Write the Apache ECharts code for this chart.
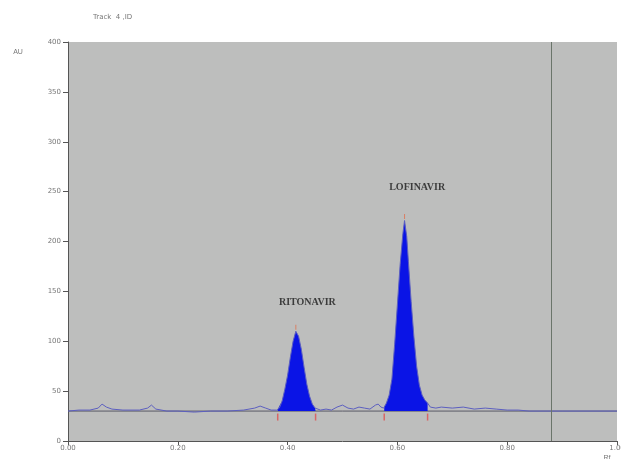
<!DOCTYPE html>
<html>
<head>
<meta charset="utf-8">
<script src="https://cdn.jsdelivr.net/npm/echarts@6/dist/echarts.min.js"></script>
<style>html,body{margin:0;padding:0;background:#fff;}#c{width:621px;height:459px;}</style>
</head>
<body>
<div id="c"></div>
<script>
// Densitogram trace (Rf, AU)
var rfValues = [0.00,0.02,0.04,0.055,0.062,0.07,0.08,0.10,0.13,0.145,0.152,0.16,0.18,0.20,0.23,0.26,0.29,0.32,0.34,0.35,0.36,0.37,0.38,0.385,0.39,0.395,0.40,0.405,0.41,0.415,0.42,0.425,0.43,0.435,0.44,0.445,0.45,0.46,0.47,0.48,0.49,0.50,0.51,0.52,0.53,0.54,0.55,0.56,0.565,0.57,0.575,0.58,0.585,0.59,0.595,0.60,0.605,0.61,0.613,0.617,0.62,0.625,0.63,0.635,0.64,0.645,0.65,0.655,0.66,0.67,0.68,0.70,0.72,0.74,0.76,0.78,0.80,0.82,0.84,0.90,1.00];
var auValues = [30,31,31,33,37,34,32,31,31,33,36,32,30,30,29,30,30,31,33,35,33,31,31,33,40,52,66,84,100,110,105,92,74,57,45,37,33,31,32,31,34,36,33,32,34,33,32,36,37,34,33,38,46,62,97,137,177,208,221,205,180,140,105,75,56,46,41,38,34,33,34,33,34,32,33,32,31,31,30,30,30];
var baselineAU = 30;
var peakNames = ['RITONAVIR','LOFINAVIR'];
var peakStart = [0.382,0.576];
var peakEnd = [0.451,0.655];
var peakRf = [0.415,0.613];
var peakLabelRf = [0.436,0.636];
var peakLabelAU = [139,254];
var markerRf = 0.88;

var signal = rfValues.map(function(x,i){return [x,auValues[i]];});
function valueAt(x){
  for (var i=0;i<rfValues.length-1;i++){
    if (x>=rfValues[i] && x<=rfValues[i+1]){
      var t=(x-rfValues[i])/(rfValues[i+1]-rfValues[i]);
      return auValues[i]+t*(auValues[i+1]-auValues[i]);
    }
  }
  return baselineAU;
}
var fillSeries = peakStart.map(function(s,k){
  var pts=[[s,valueAt(s)]];
  rfValues.forEach(function(x,i){ if(x>s && x<peakEnd[k]) pts.push([x,auValues[i]]); });
  pts.push([peakEnd[k],valueAt(peakEnd[k])]);
  return {type:'line',data:pts,symbol:'none',lineStyle:{width:0},
    areaStyle:{color:'#0a14e6',opacity:1,origin:baselineAU},z:3,silent:true};
});
var boundaryMarks=[];
peakStart.forEach(function(s,k){boundaryMarks.push([s,24]);boundaryMarks.push([peakEnd[k],24]);});
var topMarks = peakRf.map(function(x){return [x,valueAt(x)+4];});

var chart = echarts.init(document.getElementById('c'));
var axisLabelStyle = {color:'#777',fontSize:7,fontFamily:'DejaVu Sans'};
chart.setOption({
  animation:false,
  backgroundColor:'#fff',
  title:{text:'Track  4 ,ID',left:88,top:9,textStyle:{color:'#777',fontSize:7,fontWeight:'normal',fontFamily:'DejaVu Sans'}},
  grid:{left:68,top:42,right:4,bottom:18,show:true,backgroundColor:'#bdbebd',borderWidth:0,containLabel:false,outerBoundsMode:'none'},
  xAxis:{type:'value',min:0,max:1,interval:0.2,
    name:'Rf',nameLocation:'end',nameGap:-10,
    nameTextStyle:{color:'#777',fontSize:7,align:'center',verticalAlign:'top',padding:[14,0,0,0]},
    axisLine:{show:true,lineStyle:{color:'#555',width:1}},
    axisTick:{show:true,length:4,lineStyle:{color:'#555'}},
    splitLine:{show:false},
    axisLabel:Object.assign({formatter:function(v){return v.toFixed(2);},margin:4},axisLabelStyle)},
  yAxis:{type:'value',min:0,max:400,interval:50,
    name:'AU',nameLocation:'end',nameGap:0,nameTextStyle:{color:'#777',fontSize:7,padding:[0,0,-14,-100]},
    axisLine:{show:true,lineStyle:{color:'#555',width:1}},
    axisTick:{show:true,length:5,lineStyle:{color:'#555'}},
    splitLine:{show:false},
    axisLabel:Object.assign({margin:7},axisLabelStyle)},
  series:[
    {type:'line',data:[[0,baselineAU],[1,baselineAU]],symbol:'none',lineStyle:{color:'#5a5a66',width:1},z:2,
      markLine:{symbol:'none',silent:true,label:{show:false},lineStyle:{color:'#6a756a',width:1,type:'solid'},
        data:[{xAxis:markerRf}]}}
  ].concat(fillSeries).concat([
    {type:'line',data:signal,symbol:'none',lineStyle:{color:'#5c5fc0',width:1},z:4},
    {type:'scatter',data:boundaryMarks,symbol:'rect',symbolSize:[1.5,7],itemStyle:{color:'#e05050'},z:5},
    {type:'scatter',data:topMarks,symbol:'rect',symbolSize:[1,5],itemStyle:{color:'#e07050'},z:5},
    {type:'scatter',data:peakLabelRf.map(function(x,k){return [x,peakLabelAU[k]];}),symbolSize:0,z:6,
      label:{show:true,position:'inside',formatter:function(p){return peakNames[p.dataIndex];},
        color:'#1a1a1a',fontSize:10,fontWeight:'bold',fontFamily:'Liberation Serif'}}
  ])
});
</script>
</body>
</html>
